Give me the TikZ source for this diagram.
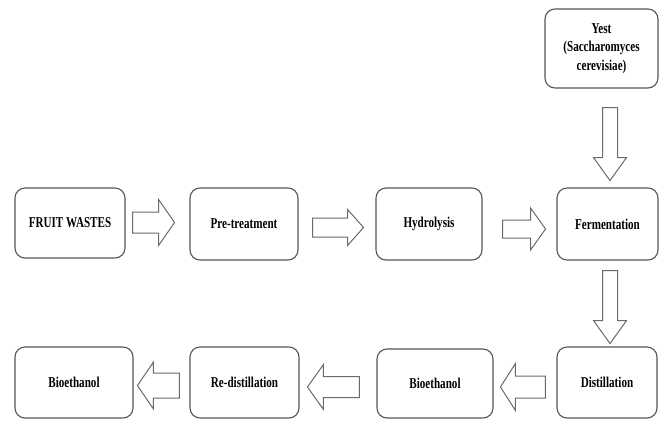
\documentclass[tikz,border=0pt]{standalone}
\usepackage{fontspec}
\setmainfont{Liberation Serif}
\usetikzlibrary{calc}
\definecolor{boxgray}{HTML}{555555}
\definecolor{arrgray}{HTML}{6A6A6A}
\newcommand{\lbl}[1]{\scalebox{0.74}[1]{#1}}
\tikzset{
  box/.style 2 args={draw=boxgray, line width=1.1pt, rounded corners=10pt,
    minimum width=#1pt, minimum height=#2pt, inner sep=0pt, align=center,
    font=\bfseries\fontsize{15}{19}\selectfont},
  pics/barrow/.style n args={4}{code={
    \draw[draw=arrgray, line width=1pt, line join=miter, fill=white]
      (0,-#2) -- (#1-#4,-#2) -- (#1-#4,-#3) -- (#1,0) -- (#1-#4,#3)
      -- (#1-#4,#2) -- (0,#2) -- cycle;}}
}
\begin{document}
\begin{tikzpicture}[x=1pt,y=-1pt]
\useasboundingbox (0,0) rectangle (664,421);
% row 1
\node[box={110}{70}] (fw)  at (70,223)    {\lbl{FRUIT WASTES}};
\node[box={108}{72}] (pre) at (244,224)   {\lbl{Pre-treatment}};
\node[box={106}{72}] (hyd) at (429,224)   {\lbl{Hydrolysis}};
\node[box={101}{72}] (fer) at (607.5,224) {\lbl{Fermentation}};
% yeast
\node[box={113}{79}] (yest) at (601.5,48.5)
  {\lbl{Yest}\\[-1pt]\lbl{(Saccharomyces}\\\lbl{cerevisiae)}};
% row 2
\node[box={118}{71}] (bio1) at (74,382.5)   {\lbl{Bioethanol}};
\node[box={109}{71}] (red)  at (244.5,382.5) {\lbl{Re-distillation}};
\node[box={116}{69}] (bio2) at (435,383.5)  {\lbl{Bioethanol}};
\node[box={100}{71}] (dist) at (607,382.5)  {\lbl{Distillation}};
% block arrows
\pic at ($(fw.east)+(7,-0.5)$) {barrow={42}{10.5}{23}{16}};
\pic at ($(pre.east)+(14,3.5)$) {barrow={51}{9.5}{18}{16}};
\pic at ($(hyd.east)+(20,5)$) {barrow={43}{9}{21}{15}};
\pic[rotate=-90] at ($(yest.south)+(8.5,19)$) {barrow={73}{7.5}{16.5}{23}};
\pic[rotate=-90] at ($(fer.south)+(2.5,10)$) {barrow={73}{7.5}{16.5}{23}};
\pic[rotate=180] at ($(dist.west)+(-11,4.5)$) {barrow={45}{11}{23.5}{15}};
\pic[rotate=180] at ($(bio2.west)+(-17,3.5)$) {barrow={52}{10.5}{22.5}{16}};
\pic[rotate=180] at ($(red.west)+(-10,3)$) {barrow={42}{12.5}{23.5}{16}};
\end{tikzpicture}
\end{document}
